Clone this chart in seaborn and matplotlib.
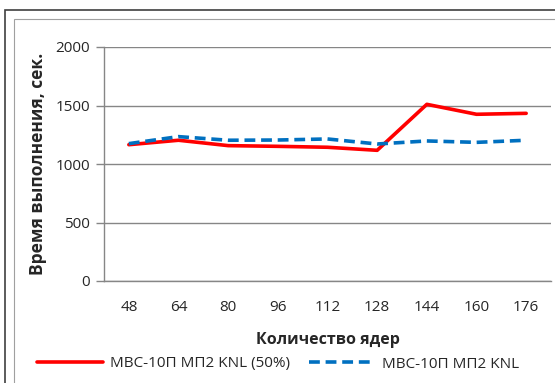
import numpy as np
import pandas as pd
import matplotlib
matplotlib.use("Agg")
import matplotlib.pyplot as plt
from matplotlib.patches import Rectangle
from matplotlib.lines import Line2D
import seaborn as sns

cores = ["48", "64", "80", "96", "112", "128", "144", "160", "176"]
time_50 = [1165, 1203, 1157, 1151, 1143, 1117, 1510, 1425, 1433]
time_full = [1174, 1234, 1203, 1205, 1214, 1171, 1197, 1185, 1203]
series_names = ["МВС-10П МП2 KNL (50%)", "МВС-10П МП2 KNL"]
yticks = [0, 500, 1000, 1500, 2000]

sns.set_style("white")
plt.rcParams["font.family"] = ["Open Sans", "DejaVu Sans"]

df = pd.DataFrame({
    "cores": cores * 2,
    "time": time_50 + time_full,
    "series": [series_names[0]] * len(cores) + [series_names[1]] * len(cores),
})

fig = plt.figure(figsize=(5.55, 3.83), dpi=100)
ax = fig.add_axes([104 / 555, 1 - 281 / 383, 447 / 555, 234 / 383])

# chart frame like in the spreadsheet export
fig.patches.append(Rectangle((5 / 555, -0.1), 1.2, 1 - 10 / 383 + 0.1, transform=fig.transFigure,
                             fill=False, edgecolor="#404040", lw=1.2))
fig.patches.append(Rectangle((14 / 555, -0.1), 1.2, 1 - 19 / 383 + 0.1, transform=fig.transFigure,
                             fill=False, edgecolor="#a0a0a0", lw=0.8))

sns.lineplot(data=df, x="cores", y="time", hue="series", style="series",
             palette=["#ff0000", "#0070c0"], dashes=[(None, None), (3, 1.6)],
             linewidth=2.6, legend=False, ax=ax, sort=False)
for ln in ax.get_lines():
    ln.set_dash_capstyle("butt")

ax.set_xlim(-0.5, len(cores) - 0.5)
ax.set_ylim(0, 2000)
ax.set_yticks(yticks)
ax.yaxis.grid(True, color="#868686", lw=1)
ax.set_axisbelow(True)
for s in ["top", "right"]:
    ax.spines[s].set_visible(False)
for s in ["left", "bottom"]:
    ax.spines[s].set_color("#868686")
    ax.spines[s].set_linewidth(1)

ax.set_xticks(range(len(cores)))
ax.set_xticklabels(cores)
ax.set_xticks(np.arange(-0.5, len(cores)), minor=True)
ax.tick_params(axis="x", which="major", length=0, pad=14, labelsize=11)
ax.tick_params(axis="x", which="minor", length=5, width=1, color="#868686", direction="out")
ax.tick_params(axis="y", length=6, width=1, color="#868686", direction="out", left=True, labelsize=11, pad=4)

ax.set_xlabel("Количество ядер", fontsize=11.5, fontweight="bold", labelpad=12)
ax.set_ylabel("Время выполнения, сек.", fontsize=12.5, fontweight="bold", labelpad=6)

handles = [Line2D([], [], color="#ff0000", lw=2.6),
           Line2D([], [], color="#0070c0", lw=2.6, ls=(0, (3, 1.6)))]
fig.legend(handles, series_names, loc="center left", bbox_to_anchor=(37 / 555, 1 - 364 / 383),
           ncol=2, frameon=False, fontsize=11, handlelength=4.3, handletextpad=0.5,
           columnspacing=1.2, borderaxespad=0, borderpad=0)

fig.savefig("out.png", dpi=100)
